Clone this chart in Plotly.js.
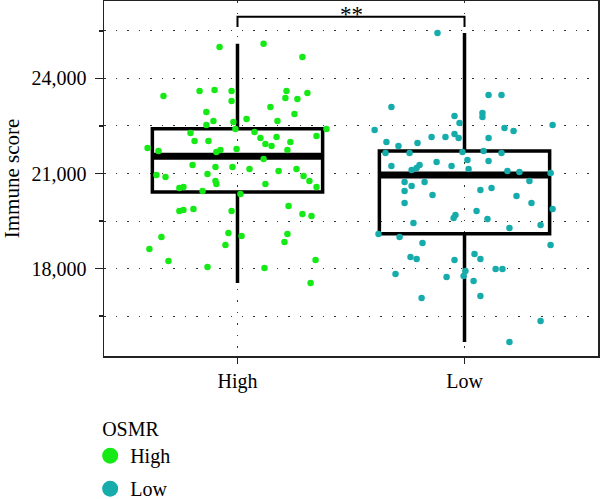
<!DOCTYPE html>
<html>
<head>
<meta charset="utf-8">
<script src="https://cdn.plot.ly/plotly-3.0.1.min.js"></script>
<style>html,body{margin:0;padding:0;background:#fff}#chart{width:600px;height:499px}</style>
</head>
<body>
<div id="chart"></div>
<script>
// ---- data ----
const categories = ["High", "Low"];
const legendTitle = "OSMR";
const yTitle = "Immune score";

// box statistics per group
const q1 = [20416, 19100];
const median = [21543, 20952];
const q3 = [22412, 21710];
const lowerWhisker = [17540, 15680];
const upperWhisker = [25100, 25437];

// jittered points: horizontal jitter offset (category units) and score
const highJitter = [-0.079,0.115,0.286,-0.326,-0.167,-0.101,-0.026,-0.026,0.216,0.211,0.264,0.308,0.145,-0.137,0.251,-0.106,-0.018,0.040,0.176,-0.137,0.392,0.348,-0.396,-0.348,-0.189,-0.128,-0.207,-0.009,0.075,0.101,0.172,0.123,0.150,0.233,0.220,-0.093,-0.075,-0.004,0.115,-0.198,-0.097,-0.022,0.053,0.181,0.260,-0.357,-0.317,-0.132,-0.097,-0.093,0.291,0.317,0.348,-0.256,-0.238,-0.154,0.013,0.123,-0.256,-0.238,-0.194,-0.026,0.225,0.286,0.326,-0.335,-0.388,-0.304,-0.132,-0.053,-0.040,0.018,0.119,0.220,0.207,0.344,0.322];
const highScore = [24995,25100,24679,23447,23605,23637,23605,23289,23605,23384,23353,23542,23100,22942,22879,22658,22626,22721,22658,22531,22405,22184,21805,21710,22026,22026,22279,22405,22310,22121,22153,21931,21868,21995,21742,21679,21742,21774,21458,21268,21205,21205,21142,21079,21142,20952,20889,20984,20763,20668,20921,20763,20574,20542,20574,20447,20352,20668,19816,19847,19879,19816,19973,19721,19658,18995,18616,18237,18047,18742,19121,19026,18016,19089,18837,18268,17540];

const lowJitter = [-0.119,0.106,0.163,-0.322,-0.044,0.079,0.079,-0.022,0.388,-0.396,0.176,0.216,-0.344,-0.291,-0.207,-0.145,-0.084,-0.044,-0.026,0.106,-0.348,-0.242,-0.009,0.084,0.163,-0.322,-0.198,-0.123,-0.057,0.013,0.106,-0.233,-0.211,0.018,0.189,0.242,0.379,-0.264,-0.233,-0.176,0.286,-0.264,-0.141,0.070,0.119,0.229,-0.264,0.295,0.388,0.053,0.101,-0.048,-0.040,-0.225,0.198,0.335,-0.379,-0.286,-0.185,0.379,-0.238,-0.211,-0.044,0.044,0.070,-0.304,-0.079,0.004,-0.004,0.040,0.137,0.167,-0.189,0.070,0.335,0.198];
const lowScore = [25437,23479,23479,23100,22816,22910,22784,22595,22531,22374,22437,22342,21995,21868,21963,22153,22153,22247,22121,22121,21647,21647,21679,21710,21647,21237,21268,21363,21237,21426,21395,21110,21174,21142,21079,21047,21016,20731,20605,20731,20763,20447,20321,20479,20542,20289,20068,20068,19879,19816,19563,19595,19689,19437,19279,19373,19089,18995,18805,18742,18363,18300,18268,18458,18300,17826,17731,17921,17763,17605,17984,17984,17068,17131,16342,15679];

const sigLabel = "**";
const sigBracket = [25626, 25952]; // bracket foot and top (score units)

// ---- styling ----
const colors = ["#16ea16", "#17acac"];
const FONT = "Liberation Serif, Times New Roman, serif";
const boxWidth = 0.75;

const groups = [
  {jit: highJitter, y: highScore},
  {jit: lowJitter, y: lowScore}
];

const traces = [];

traces.push({
  type: "box",
  x: categories.map((c, i) => i),
  q1: q1, median: median, q3: q3,
  lowerfence: lowerWhisker, upperfence: upperWhisker,
  width: boxWidth,
  boxpoints: false,
  fillcolor: "rgba(0,0,0,0)",
  line: {color: "#000", width: 3.5},
  whiskerwidth: 0,
  showlegend: false,
  hoverinfo: "skip"
});

const mx = [], my = [];
median.forEach((m, i) => {
  mx.push(i - boxWidth / 2, i + boxWidth / 2, null);
  my.push(m, m, null);
});
traces.push({
  type: "scatter", mode: "lines", x: mx, y: my,
  line: {color: "#000", width: 7}, showlegend: false, hoverinfo: "skip"
});

groups.forEach((g, i) => {
  traces.push({
    type: "scatter", mode: "markers",
    x: g.jit.map(d => i + d), y: g.y,
    marker: {color: colors[i], size: 6.5, line: {width: 0}},
    showlegend: false, hoverinfo: "skip", cliponaxis: false
  });
});

traces.push({
  type: "scatter", mode: "lines",
  x: [0, 0, 1, 1],
  y: [sigBracket[0], sigBracket[1], sigBracket[1], sigBracket[0]],
  line: {color: "#000", width: 2}, showlegend: false, hoverinfo: "skip"
});

categories.forEach((c, i) => {
  traces.push({
    type: "scatter", mode: "markers", x: [null], y: [null], name: c,
    legendgroup: "g" + i,
    marker: {color: colors[i], size: 16}, showlegend: true
  });
});

const gridStyle = {gridcolor: "#333", gridwidth: 1, griddash: "1.5px,10px"};

const layout = {
  width: 600, height: 499,
  margin: {l: 104, r: 2, t: 1, b: 143},
  paper_bgcolor: "#fff", plot_bgcolor: "#fff",
  font: {family: FONT, size: 20, color: "#000"},
  showlegend: true,
  xaxis: Object.assign({
    range: [-0.588, 1.588],
    tickvals: categories.map((c, i) => i),
    ticktext: categories,
    showgrid: true, zeroline: false,
    showline: true, linecolor: "#222", linewidth: 1.5, mirror: true,
    ticks: "outside", ticklen: 6, tickwidth: 1.5, tickcolor: "#222",
    tickfont: {family: FONT, size: 20, color: "#000"}
  }, gridStyle),
  yaxis: Object.assign({
    range: [15237, 26447],
    tick0: 0, dtick: 3000, tickformat: ",d",
    showgrid: true, zeroline: false,
    showline: true, linecolor: "#222", linewidth: 1.5, mirror: true,
    ticks: "outside", ticklen: 8, tickwidth: 1.5, tickcolor: "#222",
    ticklabelstandoff: 4,
    tickfont: {family: FONT, size: 20, color: "#000"},
    minor: {dtick: 1500, tick0: 0, showgrid: true, gridcolor: "#333", gridwidth: 1, griddash: "1.5px,10px",
            ticks: "outside", ticklen: 4, tickwidth: 1.2, tickcolor: "#222"},
    title: {text: yTitle, font: {family: FONT, size: 21, color: "#000"}, standoff: 11}
  }, gridStyle),
  legend: {
    xref: "paper", yref: "container",
    x: -0.028, xanchor: "left", y: 0.178, yanchor: "top",
    orientation: "v",
    title: {text: "\u00a0\u00a0" + legendTitle, font: {family: FONT, size: 20}, side: "top"},
    font: {family: FONT, size: 20, color: "#000"},
    tracegroupgap: 4,
    itemsizing: "trace", bgcolor: "rgba(0,0,0,0)"
  },
  annotations: [{
    x: 0.5, y: 26020, xref: "x", yref: "y",
    text: sigLabel, showarrow: false,
    font: {family: FONT, size: 23, color: "#000"},
    xanchor: "center", yanchor: "middle"
  }]
};

Plotly.newPlot("chart", traces, layout, {displayModeBar: false, staticPlot: true});
</script>
</body>
</html>
